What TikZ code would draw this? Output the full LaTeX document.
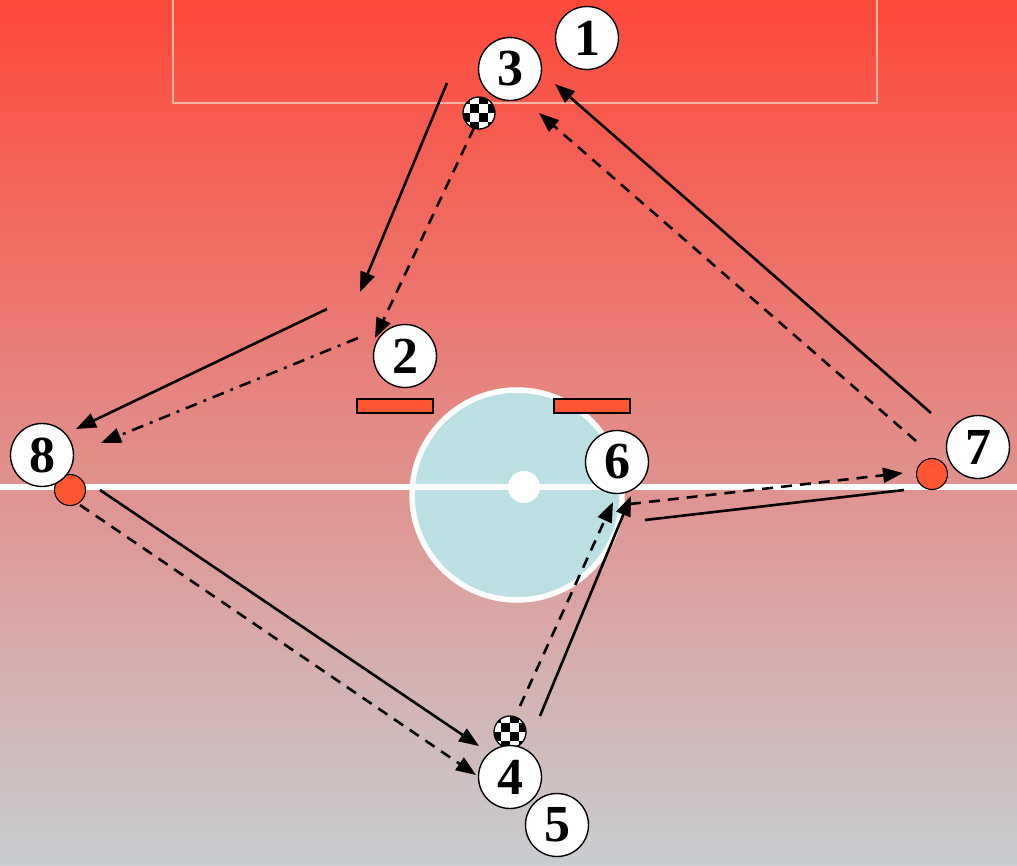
\documentclass[tikz,border=0pt]{standalone}
\usepackage{fontspec}
\setmainfont{Liberation Serif}
\usetikzlibrary{arrows.meta}
\definecolor{topred}{RGB}{255,72,58}
\definecolor{midred}{RGB}{229,150,146}
\definecolor{botgrey}{RGB}{200,205,208}
\definecolor{boxline}{RGB}{255,180,165}
\definecolor{circfill}{RGB}{186,224,227}
\definecolor{conered}{RGB}{255,85,50}
\tikzset{
  num/.style={circle, draw=black, line width=1.4pt, fill=white, minimum size=63pt, inner sep=0pt,
    font=\bfseries\fontsize{52}{52}\selectfont},
  dot/.style={circle, draw=black, line width=1.1pt, fill=conered, minimum size=31pt, inner sep=0pt},
  bar/.style={rectangle, draw=black, line width=1.1pt, fill=conered, minimum width=76pt, minimum height=14pt, inner sep=0pt},
  ball/.style={circle, draw=black, line width=1.3pt, fill=white, minimum size=32pt, inner sep=0pt,
    path picture={\foreach \i in {0,...,3}{\foreach \j in {0,...,3}{%
      \pgfmathtruncatemacro\k{mod(\i+\j,2)}%
      \ifnum\k=0 \fill[black] ([shift={(\i*9pt-2pt,-\j*9pt+2pt)}]path picture bounding box.north west) rectangle ++(9pt,-9pt);\fi}}}},
  run/.style={line width=2.6pt, -{Triangle[length=20pt,width=15pt]}},
  passd/.style={line width=2.6pt, dash pattern=on 11pt off 8pt, -{Triangle[length=20pt,width=15pt]}},
  passdd/.style={line width=2.6pt, dash pattern=on 12pt off 7pt on 3pt off 7pt, -{Triangle[length=20pt,width=15pt]}},
  plain/.style={line width=2.6pt},
  field/.style={white, line width=5.5pt}
}
\begin{document}
\begin{tikzpicture}[x=1pt,y=-1pt]
\useasboundingbox (0,0) rectangle (1017,865);
\shade[top color=topred, middle color=midred, bottom color=botgrey] (0,0) rectangle (1017,865);
% penalty box
\draw[boxline, line width=2pt] (173,0) -- (173,103) -- (877,103) -- (877,0);
% centre circle
\draw[field, fill=circfill] (517,495) circle (105);
\draw[field] (0,487) -- (1017,487);
\fill[white] (524,487) circle (16);
% cones
\node[bar] (c1) at (395,406) {};
\node[bar] (c2) at (592,406) {};
% players / dots
\node[dot] (d8) at (70,490) {};
\node[dot] (d7) at (932,474) {};
% balls
\node[ball] (b1) at (479,113) {};
\node[ball] (b2) at (510,732) {};
% numbers
\node[num] (n1) at (587,38) {1};
\node[num] (n3) at (510,69) {3};
\node[num] (n2) at (405,356) {2};
\node[num] (n8) at (42,455) {8};
\node[num] (n6) at (617,462) {6};
\node[num] (n7) at (978,447) {7};
\node[num] (n4) at (510,777) {4};
\node[num] (n5) at (557,825) {5};
% connector end points
\coordinate (a1s) at (447,83);   \coordinate (a1e) at (360,292);
\coordinate (a2s) at (474,128);  \coordinate (a2e) at (375,338);
\coordinate (a3s) at (327,309);  \coordinate (a3e) at (76,429);
\coordinate (a4s) at (358,338);  \coordinate (a4e) at (101,443);
\coordinate (a5s) at (931,413);  \coordinate (a5e) at (555,84);
\coordinate (a6s) at (916,441);  \coordinate (a6e) at (539,113);
\coordinate (a7s) at (100,490);  \coordinate (a7e) at (479,746);
\coordinate (a8s) at (80,505);   \coordinate (a8e) at (476,775);
\coordinate (a9s) at (520,706);  \coordinate (a9e) at (613,502);
\coordinate (a10s) at (540,716); \coordinate (a10e) at (631,496);
\coordinate (a11s) at (630,504); \coordinate (a11e) at (903,473);
\coordinate (a12s) at (904,490); \coordinate (a12e) at (645,520);
% connectors
\draw[run] (a1s) -- (a1e);
\draw[passd] (a2s) -- (a2e);
\draw[run] (a3s) -- (a3e);
\draw[passdd] (a4s) -- (a4e);
\draw[run] (a5s) -- (a5e);
\draw[passd] (a6s) -- (a6e);
\draw[run] (a7s) -- (a7e);
\draw[passd] (a8s) -- (a8e);
\draw[passd] (a9s) -- (a9e);
\draw[run] (a10s) -- (a10e);
\draw[passd] (a11s) -- (a11e);
\draw[plain] (a12s) -- (a12e);
\end{tikzpicture}
\end{document}
